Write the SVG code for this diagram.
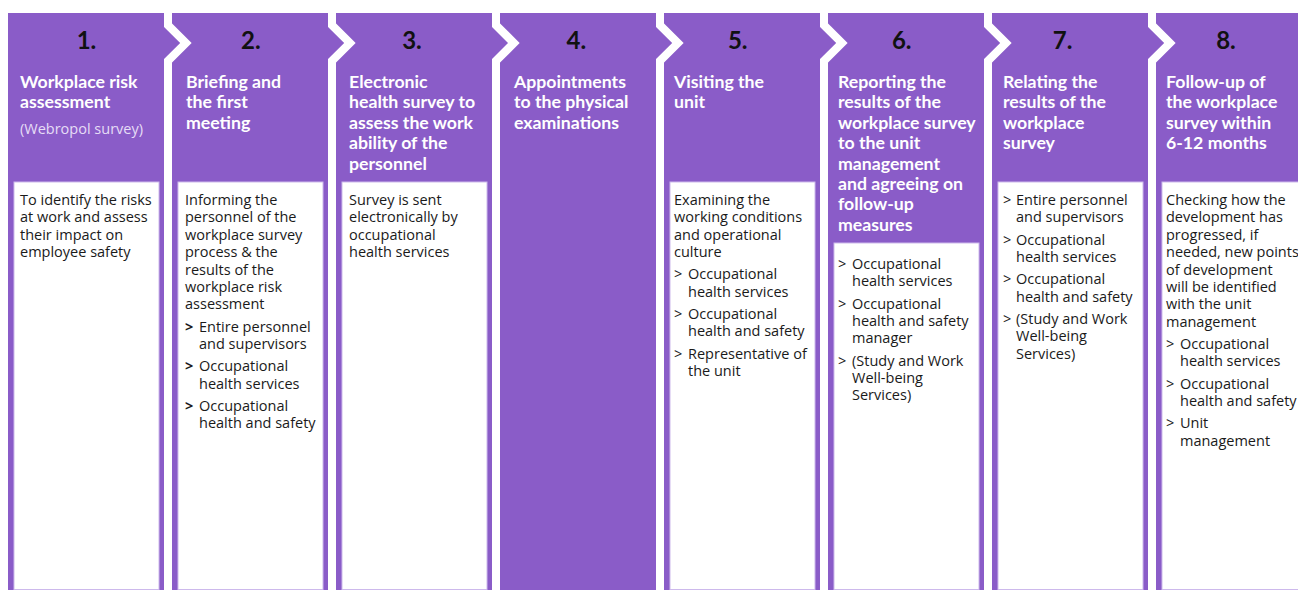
<svg xmlns="http://www.w3.org/2000/svg" width="1298" height="590" viewBox="0 0 1298 590">
<style>
.col{fill:#8a5cc8;stroke:#ffffff;stroke-width:8;stroke-linejoin:miter}
.box{fill:#ffffff;stroke:#cdb9ec;stroke-width:1}
.num{font-family:Lato,"Liberation Sans",sans-serif;font-weight:700;font-size:24px;fill:#111111;text-anchor:middle}
.ttl{font-family:Lato,"Liberation Sans",sans-serif;font-weight:700;font-size:17.7px;fill:#ffffff}
.sub{font-family:"Open Sans","Liberation Sans",sans-serif;font-size:14.5px;fill:#e6dcf6}
.txt{font-family:"Open Sans","Liberation Sans",sans-serif;font-size:14.5px;fill:#1a1a1a}
.bul{font-family:"Open Sans","Liberation Sans",sans-serif;font-size:14.5px;fill:#1a1a1a}
.bulb{font-family:"Open Sans","Liberation Sans",sans-serif;font-size:14.5px;font-weight:700;fill:#1a1a1a}
</style>
<rect x="0" y="0" width="1298" height="590" fill="#ffffff"/>

<g id="step1">
<polygon class="col" points="4,9 168,9 168,25 186,43 168,61 168,594 4,594"/>
<text class="num" x="86.5" y="49">1.</text>
<text class="ttl" x="20" y="88">Workplace risk</text>
<text class="ttl" x="20" y="108.4">assessment</text>
<text class="sub" x="20" y="134">(Webropol survey)</text>
<rect class="box" x="14" y="182" width="145" height="407.5"/>
<text class="txt" x="20" y="205">To identify the risks</text>
<text class="txt" x="20" y="222.4">at work and assess</text>
<text class="txt" x="20" y="239.8">their impact on</text>
<text class="txt" x="20" y="257.2">employee safety</text>
</g>

<g id="step2">
<polygon class="col" points="168,9 332,9 332,25 350,43 332,61 332,594 168,594 168,61 186,43 168,25"/>
<text class="num" x="250.8" y="49">2.</text>
<text class="ttl" x="186" y="88">Briefing and</text>
<text class="ttl" x="186" y="108.4">the first</text>
<text class="ttl" x="186" y="128.8">meeting</text>
<rect class="box" x="178" y="182" width="145" height="407.5"/>
<text class="txt" x="185" y="205">Informing the</text>
<text class="txt" x="185" y="222.4">personnel of the</text>
<text class="txt" x="185" y="239.8">workplace survey</text>
<text class="txt" x="185" y="257.2">process &amp; the</text>
<text class="txt" x="185" y="274.6">results of the</text>
<text class="txt" x="185" y="292">workplace risk</text>
<text class="txt" x="185" y="309.4">assessment</text>
<text class="bulb" x="185" y="331.6">&gt;</text>
<text class="txt" x="199" y="331.6">Entire personnel</text>
<text class="txt" x="199" y="349">and supervisors</text>
<text class="bulb" x="185" y="371.2">&gt;</text>
<text class="txt" x="199" y="371.2">Occupational</text>
<text class="txt" x="199" y="388.6">health services</text>
<text class="bulb" x="185" y="410.8">&gt;</text>
<text class="txt" x="199" y="410.8">Occupational</text>
<text class="txt" x="199" y="428.2">health and safety</text>
</g>

<g id="step3">
<polygon class="col" points="332,9 496,9 496,25 514,43 496,61 496,594 332,594 332,61 350,43 332,25"/>
<text class="num" x="412" y="49">3.</text>
<text class="ttl" x="349" y="88">Electronic</text>
<text class="ttl" x="349" y="108.4">health survey to</text>
<text class="ttl" x="349" y="128.8">assess the work</text>
<text class="ttl" x="349" y="149.2">ability of the</text>
<text class="ttl" x="349" y="169.6">personnel</text>
<rect class="box" x="342" y="182" width="145" height="407.5"/>
<text class="txt" x="349" y="205">Survey is sent</text>
<text class="txt" x="349" y="222.4">electronically by</text>
<text class="txt" x="349" y="239.8">occupational</text>
<text class="txt" x="349" y="257.2">health services</text>
</g>

<g id="step4">
<polygon class="col" points="496,9 660,9 660,25 678,43 660,61 660,594 496,594 496,61 514,43 496,25"/>
<text class="num" x="576.3" y="49">4.</text>
<text class="ttl" x="514" y="88">Appointments</text>
<text class="ttl" x="514" y="108.4">to the physical</text>
<text class="ttl" x="514" y="128.8">examinations</text>
</g>

<g id="step5">
<polygon class="col" points="660,9 824,9 824,25 842,43 824,61 824,594 660,594 660,61 678,43 660,25"/>
<text class="num" x="737.7" y="49">5.</text>
<text class="ttl" x="674" y="88">Visiting the</text>
<text class="ttl" x="674" y="108.4">unit</text>
<rect class="box" x="670" y="182" width="145" height="407.5"/>
<text class="txt" x="674" y="205">Examining the</text>
<text class="txt" x="674" y="222.4">working conditions</text>
<text class="txt" x="674" y="239.8">and operational</text>
<text class="txt" x="674" y="257.2">culture</text>
<text class="bul" x="674" y="279.4">&gt;</text>
<text class="txt" x="688" y="279.4">Occupational</text>
<text class="txt" x="688" y="296.8">health services</text>
<text class="bul" x="674" y="319">&gt;</text>
<text class="txt" x="688" y="319">Occupational</text>
<text class="txt" x="688" y="336.4">health and safety</text>
<text class="bul" x="674" y="358.6">&gt;</text>
<text class="txt" x="688" y="358.6">Representative of</text>
<text class="txt" x="688" y="376">the unit</text>
</g>

<g id="step6">
<polygon class="col" points="824,9 988,9 988,25 1006,43 988,61 988,594 824,594 824,61 842,43 824,25"/>
<text class="num" x="901.7" y="49">6.</text>
<text class="ttl" x="838" y="88">Reporting the</text>
<text class="ttl" x="838" y="108.4">results of the</text>
<text class="ttl" x="838" y="128.8">workplace survey</text>
<text class="ttl" x="838" y="149.2">to the unit</text>
<text class="ttl" x="838" y="169.6">management</text>
<text class="ttl" x="838" y="190">and agreeing on</text>
<text class="ttl" x="838" y="210.4">follow-up</text>
<text class="ttl" x="838" y="230.8">measures</text>
<rect class="box" x="834" y="243" width="145" height="346.5"/>
<text class="bul" x="838" y="269">&gt;</text>
<text class="txt" x="852" y="269">Occupational</text>
<text class="txt" x="852" y="286.4">health services</text>
<text class="bul" x="838" y="308.6">&gt;</text>
<text class="txt" x="852" y="308.6">Occupational</text>
<text class="txt" x="852" y="326">health and safety</text>
<text class="txt" x="852" y="343.4">manager</text>
<text class="bul" x="838" y="365.6">&gt;</text>
<text class="txt" x="852" y="365.6">(Study and Work</text>
<text class="txt" x="852" y="383">Well-being</text>
<text class="txt" x="852" y="400.4">Services)</text>
</g>

<g id="step7">
<polygon class="col" points="988,9 1152,9 1152,25 1170,43 1152,61 1152,594 988,594 988,61 1006,43 988,25"/>
<text class="num" x="1062.6" y="49">7.</text>
<text class="ttl" x="1003" y="88">Relating the</text>
<text class="ttl" x="1003" y="108.4">results of the</text>
<text class="ttl" x="1003" y="128.8">workplace</text>
<text class="ttl" x="1003" y="149.2">survey</text>
<rect class="box" x="998" y="182" width="145" height="407.5"/>
<text class="bul" x="1003" y="205">&gt;</text>
<text class="txt" x="1016" y="205">Entire personnel</text>
<text class="txt" x="1016" y="222.4">and supervisors</text>
<text class="bul" x="1003" y="244.6">&gt;</text>
<text class="txt" x="1016" y="244.6">Occupational</text>
<text class="txt" x="1016" y="262">health services</text>
<text class="bul" x="1003" y="284.2">&gt;</text>
<text class="txt" x="1016" y="284.2">Occupational</text>
<text class="txt" x="1016" y="301.6">health and safety</text>
<text class="bul" x="1003" y="323.8">&gt;</text>
<text class="txt" x="1016" y="323.8">(Study and Work</text>
<text class="txt" x="1016" y="341.2">Well-being</text>
<text class="txt" x="1016" y="358.6">Services)</text>
</g>

<g id="step8">
<polygon class="col" points="1152,9 1310,9 1310,594 1152,594 1152,61 1170,43 1152,25"/>
<text class="num" x="1226" y="49">8.</text>
<text class="ttl" x="1166" y="88">Follow-up of</text>
<text class="ttl" x="1166" y="108.4">the workplace</text>
<text class="ttl" x="1166" y="128.8">survey within</text>
<text class="ttl" x="1166" y="149.2">6-12 months</text>
<rect class="box" x="1162" y="182" width="145" height="407.5"/>
<text class="txt" x="1166" y="205">Checking how the</text>
<text class="txt" x="1166" y="222.4">development has</text>
<text class="txt" x="1166" y="239.8">progressed, if</text>
<text class="txt" x="1166" y="257.2">needed, new points</text>
<text class="txt" x="1166" y="274.6">of development</text>
<text class="txt" x="1166" y="292">will be identified</text>
<text class="txt" x="1166" y="309.4">with the unit</text>
<text class="txt" x="1166" y="326.8">management</text>
<text class="bul" x="1166" y="349">&gt;</text>
<text class="txt" x="1180" y="349">Occupational</text>
<text class="txt" x="1180" y="366.4">health services</text>
<text class="bul" x="1166" y="388.6">&gt;</text>
<text class="txt" x="1180" y="388.6">Occupational</text>
<text class="txt" x="1180" y="406">health and safety</text>
<text class="bul" x="1166" y="428.2">&gt;</text>
<text class="txt" x="1180" y="428.2">Unit</text>
<text class="txt" x="1180" y="445.6">management</text>
</g>
</svg>
